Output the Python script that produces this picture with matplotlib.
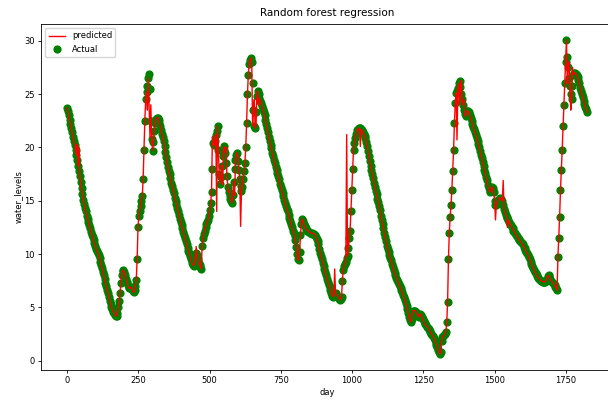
import numpy as np
import matplotlib.pyplot as plt

# actual water levels, every 3 days (day 0 .. 1824)
day_step = 3
actual = [
    23.7, 23.4, 23.0, 22.6, 22.2, 21.8, 21.4, 21.0, 20.6, 20.2,
    19.8, 19.3, 18.8, 18.3, 17.8, 17.3, 16.8, 16.2, 15.6, 15.1,
    14.7, 14.3, 14.0, 13.6, 13.3, 13.0, 12.7, 12.4, 12.1, 11.8,
    11.6, 11.3, 11.0, 10.8, 10.5, 10.3, 10.1, 9.9, 9.6, 9.3,
    9.0, 8.7, 8.3, 8.0, 7.7, 7.3, 7.0, 6.6, 6.3, 6.0,
    5.6, 5.3, 5.0, 4.8, 4.6, 4.5, 4.3, 4.2, 4.2, 4.5,
    5.0, 5.6, 6.3, 7.3, 8.0, 8.4, 8.5, 8.3, 8.0, 7.7,
    7.4, 7.1, 6.9, 6.8, 6.8, 6.9, 6.7, 6.5, 6.4, 6.6,
    7.0, 7.6, 9.5, 12.5, 13.6, 14.0, 14.5, 15.0, 15.4, 17.0,
    19.8, 22.5, 24.5, 25.2, 25.8, 26.5, 26.9, 25.5, 22.5, 20.8,
    19.7, 20.5, 21.5, 22.3, 22.7, 22.8, 22.8, 22.6, 22.3, 22.0,
    21.6, 21.3, 21.0, 20.6, 20.1, 19.6, 19.1, 18.6, 18.2, 17.8,
    17.5, 17.1, 16.7, 16.4, 16.0, 15.7, 15.3, 15.0, 14.7, 14.3,
    14.0, 13.7, 13.3, 13.0, 12.7, 12.4, 12.1, 11.8, 11.5, 11.2,
    10.9, 10.6, 10.3, 10.1, 9.8, 9.5, 9.2, 9.0, 8.9, 9.1,
    9.5, 10.1, 9.9, 9.5, 9.2, 9.0, 8.8, 8.6, 10.8, 11.5,
    11.9, 12.2, 12.5, 12.8, 13.0, 13.2, 13.6, 14.1, 14.8, 15.8,
    18.0, 20.4, 20.2, 20.6, 21.2, 21.5, 22.0, 19.8, 17.5, 16.6,
    17.2, 18.3, 19.2, 19.8, 20.1, 19.5, 18.5, 17.3, 16.3, 15.8,
    15.4, 15.2, 15.0, 14.8, 15.5, 16.8, 18.0, 18.8, 19.3, 19.5,
    18.7, 17.9, 17.0, 16.4, 15.9, 16.3, 17.0, 17.8, 18.5, 20.0,
    22.3, 25.0, 26.8, 27.8, 28.2, 28.4, 28.0, 26.0, 23.5, 22.0,
    21.8, 23.3, 24.8, 25.3, 25.0, 24.6, 24.4, 24.2, 23.9, 23.6,
    23.3, 23.0, 22.6, 22.2, 21.8, 21.4, 21.0, 20.6, 20.2, 19.9,
    19.5, 19.2, 18.8, 18.5, 18.2, 17.9, 17.6, 17.3, 17.0, 16.6,
    16.3, 16.0, 15.7, 15.4, 15.1, 14.8, 14.5, 14.2, 14.0, 13.7,
    13.4, 13.1, 12.8, 12.5, 12.2, 12.0, 11.7, 11.3, 10.7, 10.0,
    9.5, 9.4, 10.2, 11.8, 12.8, 13.3, 13.1, 12.8, 12.6, 12.4,
    12.3, 12.2, 12.2, 12.1, 12.0, 12.0, 12.0, 11.9, 11.9, 11.9,
    11.8, 11.6, 11.4, 11.2, 10.9, 10.5, 10.1, 9.8, 9.5, 9.2,
    8.9, 8.6, 8.3, 8.0, 7.7, 7.4, 7.1, 6.9, 6.6, 6.3,
    6.1, 6.0, 6.1, 6.2, 6.3, 6.2, 6.1, 6.0, 5.8, 5.7,
    5.8, 6.0, 7.5, 8.5, 8.9, 9.1, 9.3, 9.6, 9.8, 10.6,
    11.5, 12.2, 14.0, 16.0, 18.0, 19.8, 20.4, 20.9, 21.3, 21.6,
    21.7, 21.8, 21.8, 21.8, 21.7, 21.6, 21.4, 21.3, 21.1, 20.9,
    20.5, 20.1, 19.7, 19.2, 18.7, 18.3, 17.9, 17.5, 17.1, 16.7,
    16.3, 15.9, 15.6, 15.2, 14.9, 14.5, 14.1, 13.6, 13.2, 12.8,
    12.4, 12.0, 11.6, 11.2, 10.8, 10.5, 10.2, 9.9, 9.6, 9.4,
    9.1, 8.8, 8.5, 8.2, 8.0, 7.8, 7.6, 7.4, 7.2, 7.0,
    6.8, 6.6, 6.4, 6.2, 6.0, 5.7, 5.4, 5.1, 4.8, 4.5,
    4.1, 3.8, 3.6, 3.9, 4.5, 4.7, 4.7, 4.7, 4.6, 4.4,
    4.2, 4.1, 4.3, 4.4, 4.3, 4.1, 3.9, 3.7, 3.5, 3.4,
    3.3, 3.2, 3.1, 3.0, 2.8, 2.7, 2.5, 2.4, 2.3, 2.1,
    1.9, 1.7, 1.5, 1.3, 1.0, 0.8, 0.6, 0.8, 1.8, 2.2,
    2.3, 2.4, 2.5, 2.7, 3.6, 5.5, 9.5, 12.0, 13.5, 14.6,
    16.0, 17.8, 19.8, 22.3, 24.2, 25.1, 25.3, 25.6, 26.0, 26.2,
    25.7, 25.0, 24.5, 24.0, 23.5, 23.1, 22.9, 23.2, 23.4, 23.4,
    23.3, 23.0, 22.8, 22.5, 22.2, 21.9, 21.7, 21.4, 21.2, 20.9,
    20.6, 20.3, 20.0, 19.7, 19.3, 19.0, 18.6, 18.3, 17.9, 17.6,
    17.2, 16.9, 16.5, 16.2, 15.9, 15.8, 16.0, 16.3, 16.2, 15.8,
    15.0, 14.6, 14.6, 14.8, 15.0, 15.2, 15.3, 15.2, 15.1, 15.0,
    14.6, 14.2, 13.9, 13.7, 13.5, 13.4, 13.2, 13.0, 12.8, 12.7,
    12.5, 12.4, 12.2, 12.1, 12.0, 11.8, 11.7, 11.5, 11.4, 11.3,
    11.2, 11.1, 11.0, 10.9, 10.7, 10.6, 10.4, 10.2, 10.1, 9.9,
    9.7, 9.5, 9.3, 9.1, 8.9, 8.7, 8.5, 8.3, 8.2, 8.0,
    7.9, 7.8, 7.7, 7.6, 7.5, 7.5, 7.4, 7.4, 7.4, 7.4,
    7.5, 7.7, 7.9, 8.0, 7.9, 7.7, 7.5, 7.4, 7.3, 7.2,
    7.1, 6.9, 6.8, 6.6, 9.7, 11.5, 13.5, 16.0, 17.9, 19.8,
    22.0, 24.0, 26.0, 28.0, 30.1, 28.5, 27.5, 26.5, 25.8, 25.0,
    24.5, 25.8, 26.8, 27.0, 27.0, 26.9, 26.8, 26.6, 26.3, 26.0,
    25.6, 25.3, 25.0, 24.7, 24.4, 24.1, 23.8, 23.6, 23.3,
]

# where the prediction visibly departs from the actual values
spike_days = [36, 42, 282, 288, 291, 294, 453, 510, 525, 546, 558, 570, 588,
              600, 609, 651, 657, 663, 672, 939, 981, 1029, 1368, 1377, 1383,
              1392, 1503, 1530, 1545, 1755, 1761, 1767, 1773]
spike_vals = [20.3, 20.0, 23.5, 23.8, 21.0, 24.0, 10.7, 21.0, 14.0, 16.5, 20.0,
              16.0, 15.5, 19.0, 12.6, 22.0, 24.5, 22.0, 24.0, 8.6, 21.2, 20.1,
              20.7, 24.0, 26.3, 24.5, 13.2, 16.9, 12.5, 26.0, 28.0, 23.5, 27.5]

days = np.arange(len(actual)) * day_step
predicted = np.array(actual, dtype=float)
for d, v in zip(spike_days, spike_vals):
    predicted[d // day_step] = v

fig = plt.figure(figsize=(6.08, 4.03), dpi=100)
ax = fig.add_axes([41 / 608, 33 / 403, 572 / 608, 346 / 403])

ax.plot(days, predicted, color='red', linewidth=1.0, label='predicted')
ax.scatter(days, actual, color='green', s=24, label='Actual')

ax.set_title('Random forest regression', fontsize=7.5)
ax.set_xlabel('day', fontsize=6, labelpad=2)
ax.set_ylabel('water_levels', fontsize=6, labelpad=1)
ax.tick_params(labelsize=6, length=2.5, width=0.6, pad=2)
for s in ax.spines.values():
    s.set_linewidth(0.6)
ax.legend(loc='upper left', fontsize=6)

fig.savefig('out.png', dpi=100)
